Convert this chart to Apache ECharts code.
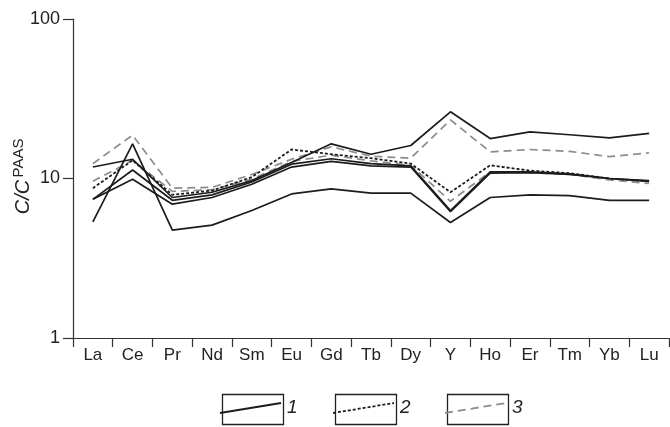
<!DOCTYPE html>
<html>
<head>
<meta charset="utf-8">
<script src="https://cdn.jsdelivr.net/npm/echarts@6/dist/echarts.min.js"></script>
<style>
html,body{margin:0;padding:0;background:#fff;}
#c{width:670px;height:427px;}
</style>
</head>
<body>
<div id="c"></div>
<script>
const categories = ['La','Ce','Pr','Nd','Sm','Eu','Gd','Tb','Dy','Y','Ho','Er','Tm','Yb','Lu'];
const yTicks = [1, 10, 100];
// type 1 (solid)
const solidA = [11.8, 13.2, 7.6, 8.2, 9.7, 12.6, 16.5, 14.2, 16.1, 26.2, 17.8, 19.6, 18.8, 18.0, 19.2];
const solidB = [7.4, 9.9, 6.9, 7.6, 9.2, 11.8, 12.8, 12.0, 11.8, 6.2, 10.8, 10.9, 10.6, 10.0, 9.6];
const solidC = [5.35, 16.5, 4.75, 5.1, 6.3, 8.0, 8.6, 8.1, 8.1, 5.3, 7.6, 7.9, 7.8, 7.3, 7.3];
const solidD = [7.4, 11.3, 7.3, 7.9, 9.5, 12.3, 13.3, 12.4, 12.0, 6.3, 11.0, 11.0, 10.7, 10.0, 9.7];
// type 2 (dotted)
const dotted = [8.7, 13.0, 7.9, 8.4, 10.2, 15.2, 14.2, 13.4, 12.4, 8.2, 12.1, 11.2, 10.8, 10.0, 9.6];
// type 3 (grey dashed)
const gray1 = [12.4, 18.7, 8.7, 8.8, 10.6, 13.2, 15.8, 13.8, 13.4, 23.3, 14.7, 15.2, 14.8, 13.7, 14.5];
const gray2 = [9.6, 13.0, 8.3, 8.5, 9.9, 12.8, 14.0, 12.9, 12.1, 7.2, 11.0, 10.9, 10.6, 9.8, 9.3];
const legendLabels = ['1', '2', '3'];

const BLACK = '#1c1c1c';
const GREY = '#8c8c8c';
const FONT = 'Liberation Sans, Arial, sans-serif';

function mk(name, data, color, type, width) {
  return {
    name: name, type: 'line', data: data, symbol: 'none', silent: true,
    lineStyle: {color: color, width: width || 1.7, type: type}
  };
}

const chart = echarts.init(document.getElementById('c'), null, {renderer: 'canvas'});

const legendGraphics = [];
const boxX = [220, 333, 445];
const styles = [
  {color: BLACK, dash: null},
  {color: BLACK, dash: [3, 2]},
  {color: GREY, dash: [8, 5]}
];
legendLabels.forEach(function (lab, i) {
  const x = boxX[i];
  legendGraphics.push({
    type: 'rect', left: x, top: 392, silent: true,
    shape: {width: 61, height: 30},
    style: {fill: 'none', stroke: '#222', lineWidth: 1.3}
  });
  legendGraphics.push({
    type: 'line', silent: true,
    shape: {x1: x, y1: 413, x2: x + 61, y2: 403},
    style: {stroke: styles[i].color, lineWidth: 1.8, lineDash: styles[i].dash}
  });
  legendGraphics.push({
    type: 'text', left: x + 67, top: 398, silent: true,
    style: {text: lab, font: 'italic 19px ' + FONT, fill: '#222'}
  });
});

legendGraphics.push({
  type: 'text', x: 23, y: 197, rotation: Math.PI / 2, silent: true,
  style: {text: 'C/C', font: 'italic 20px ' + FONT, fill: '#222', align: 'center', verticalAlign: 'middle'}
});
legendGraphics.push({
  type: 'text', x: 19, y: 158, rotation: Math.PI / 2, silent: true,
  style: {text: 'PAAS', font: '15px ' + FONT, fill: '#222', align: 'center', verticalAlign: 'middle'}
});

chart.setOption({
  animation: false,
  backgroundColor: '#fff',
  grid: {left: 73, right: 1, top: 19, bottom: 89, containLabel: false},
  xAxis: {
    type: 'category', data: categories, boundaryGap: true,
    axisLine: {lineStyle: {color: '#333', width: 1.2}},
    axisTick: {show: true, length: 9, interval: 0, lineStyle: {color: '#333', width: 1.2}},
    axisLabel: {interval: 0, margin: 9, fontSize: 17, color: '#222', fontFamily: FONT},
    splitLine: {show: false}
  },
  yAxis: {
    type: 'log', logBase: 10, min: yTicks[0], max: yTicks[2],
    axisLine: {show: true, lineStyle: {color: '#333', width: 1.2}},
    axisTick: {show: true, length: 10, lineStyle: {color: '#333', width: 1.2}},
    minorTick: {show: false},
    axisLabel: {margin: 13, fontSize: 18, color: '#222', fontFamily: FONT},
    splitLine: {show: false}
  },
  series: [
    mk('3', gray1, GREY, [8, 5]),
    mk('3', gray2, GREY, [8, 5]),
    mk('2', dotted, BLACK, [3, 2], 1.8),
    mk('1', solidA, BLACK, 'solid'),
    mk('1', solidB, BLACK, 'solid'),
    mk('1', solidD, BLACK, 'solid'),
    mk('1', solidC, BLACK, 'solid')
  ],
  graphic: legendGraphics
});
</script>
</body>
</html>
